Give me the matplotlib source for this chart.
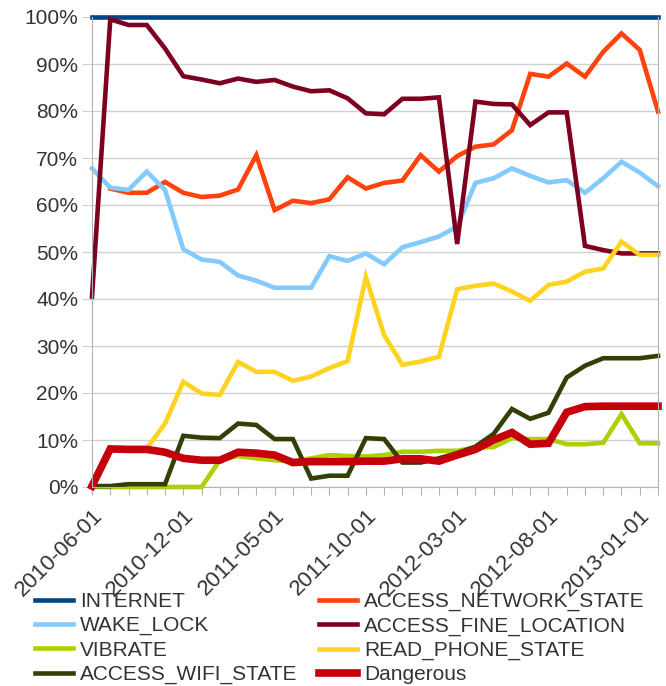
import matplotlib
matplotlib.use('Agg')
import matplotlib.pyplot as plt
import matplotlib.transforms as mtransforms
import numpy as np

plt.rcParams['font.family'] = ['Liberation Sans', 'DejaVu Sans']

months = ['2010-06-01', '2010-07-01', '2010-09-01', '2010-10-01', '2010-11-01',
          '2010-12-01', '2011-01-01', '2011-02-01', '2011-03-01', '2011-04-01',
          '2011-05-01', '2011-06-01', '2011-07-01', '2011-08-01', '2011-09-01',
          '2011-10-01', '2011-11-01', '2011-12-01', '2012-01-01', '2012-02-01',
          '2012-03-01', '2012-04-01', '2012-05-01', '2012-06-01', '2012-07-01',
          '2012-08-01', '2012-09-01', '2012-10-01', '2012-11-01', '2012-12-01',
          '2013-01-01', '2013-02-01']

# percent of apps requesting each permission
internet = [100] * 32
access_network_state = [np.nan, 63.5, 62.6, 62.6, 64.9, 62.6, 61.7, 62.0, 63.3, 70.6,
                        58.9, 60.9, 60.4, 61.2, 65.9, 63.5, 64.7, 65.2, 70.6, 67.1,
                        70.4, 72.4, 72.9, 75.9, 87.9, 87.3, 90.1, 87.3, 92.6, 96.5,
                        93.0, 79.9]
wake_lock = [67.8, 63.7, 63.2, 67.1, 63.2, 50.6, 48.4, 47.9, 45.0, 43.9,
             42.4, 42.4, 42.4, 49.1, 48.1, 49.7, 47.4, 51.0, 52.1, 53.3,
             55.4, 64.7, 65.7, 67.8, 66.2, 64.8, 65.3, 62.6, 65.7, 69.2,
             66.9, 64.0]
access_fine_location = [40.5, 99.5, 98.3, 98.3, 93.3, 87.4, 86.7, 85.9, 86.9, 86.2,
                        86.6, 85.2, 84.2, 84.4, 82.7, 79.5, 79.3, 82.6, 82.6, 82.9,
                        51.7, 82.0, 81.5, 81.4, 77.0, 79.7, 79.7, 51.3, 50.4, 49.7,
                        49.7, 49.7]
vibrate = [0, 0, 0, 0, 0, 0, 0, 5.7, 6.6, 6.1,
           5.7, 5.5, 6.1, 6.8, 6.6, 6.5, 6.8, 7.5, 7.5, 7.7,
           7.7, 8.4, 8.5, 10.4, 10.2, 10.2, 9.1, 9.1, 9.4, 15.5,
           9.3, 9.3]
read_phone_state = [0, 8.0, 8.0, 8.2, 13.5, 22.4, 19.9, 19.6, 26.6, 24.5,
                    24.5, 22.6, 23.5, 25.3, 26.8, 44.7, 32.3, 26.0, 26.7, 27.7,
                    42.1, 42.8, 43.3, 41.6, 39.6, 43.0, 43.7, 45.8, 46.5, 52.2,
                    49.4, 49.4]
access_wifi_state = [0.2, 0.2, 0.6, 0.6, 0.6, 10.9, 10.5, 10.4, 13.5, 13.2,
                     10.2, 10.2, 1.8, 2.4, 2.4, 10.4, 10.2, 5.2, 5.2, 6.1,
                     7.2, 8.6, 11.3, 16.6, 14.5, 15.8, 23.3, 25.8, 27.4, 27.4,
                     27.4, 27.9]
dangerous = [0.2, 8.1, 8.0, 8.0, 7.4, 6.1, 5.7, 5.7, 7.4, 7.2,
             6.8, 5.2, 5.4, 5.4, 5.4, 5.5, 5.5, 6.0, 6.0, 5.5,
             6.8, 8.0, 10.0, 11.6, 9.1, 9.3, 15.9, 17.1, 17.2, 17.2,
             17.2, 17.2]

series = [
    ('INTERNET', internet, '#004586', 3.3),
    ('ACCESS_NETWORK_STATE', access_network_state, '#ff420e', 3.3),
    ('WAKE_LOCK', wake_lock, '#83caff', 3.3),
    ('ACCESS_FINE_LOCATION', access_fine_location, '#7e0021', 3.3),
    ('VIBRATE', vibrate, '#aecf00', 3.3),
    ('READ_PHONE_STATE', read_phone_state, '#ffd320', 3.3),
    ('ACCESS_WIFI_STATE', access_wifi_state, '#314004', 3.3),
    ('Dangerous', dangerous, '#c5000b', 5.5),
]

fig = plt.figure(figsize=(6.66, 6.86), dpi=100)
ax = fig.add_axes([92 / 666, 1 - 487 / 686, 566 / 666, 470 / 686])

x = np.arange(len(months))
handles = {}
for name, vals, color, lw in series:
    line, = ax.plot(x, vals, color=color, lw=lw, label=name, clip_on=False,
                    solid_joinstyle='miter')
    handles[name] = line

ax.set_xlim(0, len(months) - 1)
ax.set_ylim(0, 100)
ax.set_yticks(range(0, 101, 10))
ax.set_yticklabels([f'{v}%' for v in range(0, 101, 10)])
ax.set_xticks(x)
ax.set_xticklabels([m if i % 5 == 0 else '' for i, m in enumerate(months)],
                   rotation=45, ha='right', va='top', rotation_mode='anchor')
# nudge the rotated labels a little right, like the original
shift = mtransforms.ScaledTranslation(3 / 100, 0, fig.dpi_scale_trans)
for lbl in ax.get_xticklabels():
    lbl.set_transform(lbl.get_transform() + shift)

ax.grid(axis='y', color='#d0d0d0', lw=1)
ax.set_axisbelow(True)
for side in ['left', 'right', 'bottom']:
    ax.spines[side].set_color('#b3b3b3')
ax.spines['top'].set_visible(False)
ax.tick_params(axis='x', length=6, color='#b3b3b3', labelsize=16, labelcolor='#333333', pad=7)
ax.tick_params(axis='y', length=7, color='#d0d0d0', labelsize=15, labelcolor='#333333', pad=3)

order = ['INTERNET', 'WAKE_LOCK', 'VIBRATE', 'ACCESS_WIFI_STATE',
         'ACCESS_NETWORK_STATE', 'ACCESS_FINE_LOCATION', 'READ_PHONE_STATE', 'Dangerous']
fig.legend([handles[n] for n in order], order, loc='upper left',
           bbox_to_anchor=(35 / 666, 1 - 592 / 686), ncol=2, frameon=False,
           fontsize=15, handlelength=1.8, handletextpad=0.35, labelspacing=0.25,
           columnspacing=1.05, borderpad=0, borderaxespad=0, labelcolor='#333333')

fig.savefig('out.png', dpi=100)
